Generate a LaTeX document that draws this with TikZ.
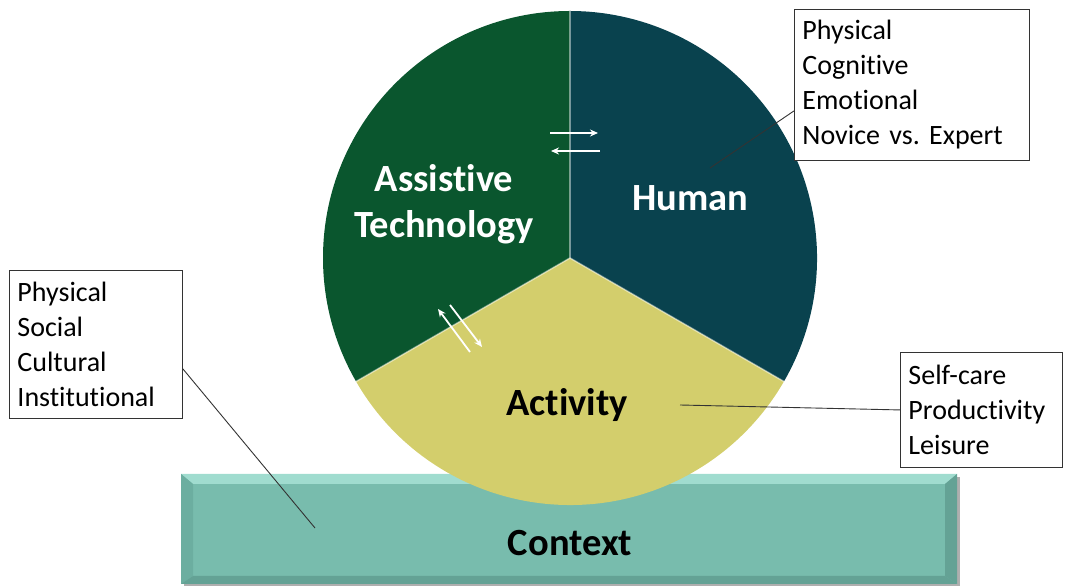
\documentclass[tikz,border=0pt]{standalone}
\usepackage{fontspec}
\setmainfont{Carlito}[Ligatures=NoCommon]
\usetikzlibrary{arrows.meta,calc}

\definecolor{atgreen}{RGB}{10,86,46}
\definecolor{humanteal}{RGB}{9,66,78}
\definecolor{actyellow}{RGB}{211,206,108}
\definecolor{ctxface}{RGB}{120,188,173}
\definecolor{ctxlight}{RGB}{160,220,207}
\definecolor{ctxside}{RGB}{108,174,160}
\definecolor{ctxdark}{RGB}{100,162,149}
\definecolor{ctxshadow}{RGB}{175,175,175}

\tikzset{
  bigbold/.style={font=\fontsize{38.5}{46}\selectfont\bfseries, align=center},
  infobox/.style={draw=black!80, line width=0.9pt, fill=white, align=left,
    inner xsep=8pt, inner ysep=0pt, font=\fontsize{28}{35}\selectfont},
  leader/.style={draw=black!80, line width=0.9pt},
  flow/.style={draw=white, line width=1.8pt, -{Stealth[length=8pt,width=7pt]}},
  divider/.style={draw=white, draw opacity=0.45, line width=1.6pt}
}

\begin{document}
\frenchspacing
\begin{tikzpicture}[x=1pt,y=1pt]
\useasboundingbox (0,0) rectangle (1065,586);

% bevelled context bar
\fill[ctxshadow] (184,-1) rectangle (960,109);
\fill[ctxface] (181,2) rectangle (957,112);
\fill[ctxlight] (181,112) -- (957,112) -- (945,102) -- (193,102) -- cycle;
\fill[ctxside] (181,2) -- (181,112) -- (193,102) -- (193,10) -- cycle;
\fill[ctxdark] (957,2) -- (957,112) -- (945,102) -- (945,10) -- cycle;
\fill[ctxdark] (181,2) -- (957,2) -- (945,10) -- (193,10) -- cycle;
\node[bigbold, text=black] (ctx) at (570,43) {Context};

% three sectors of the circle
\coordinate (c) at (570,328);
\fill[atgreen] (c) -- ++(90:247) arc[start angle=90, end angle=210, radius=247] -- cycle;
\fill[humanteal] (c) -- ++(-30:247) arc[start angle=-30, end angle=90, radius=247] -- cycle;
\fill[actyellow] (c) -- ++(210:247) arc[start angle=210, end angle=330, radius=247] -- cycle;
\draw[divider] (c) -- ++(90:247);
\draw[divider] (c) -- ++(210:247);
\draw[divider] (c) -- ++(330:247);

% sector labels
\node[bigbold, text=white] (at) at (444,382) {Assistive\\Technology};
\node[bigbold, text=white] (human) at (690,388) {Human};
\node[bigbold, text=black] (act) at (567,181) {Activity};

% interaction arrows
\coordinate (a1s) at (550,453);
\coordinate (a1e) at (598,453);
\coordinate (a2s) at (600,435);
\coordinate (a2e) at (551,435);
\draw[flow] (a1s) -- (a1e);
\draw[flow] (a2s) -- (a2e);
\coordinate (b1s) at (470,234);
\coordinate (b1e) at (438,277);
\coordinate (b2s) at (450,281);
\coordinate (b2e) at (482,239);
\draw[flow] (b1s) -- (b1e);
\draw[flow] (b2s) -- (b2e);

% detail boxes
\node[infobox, anchor=north west, minimum width=235pt, minimum height=151pt, text width=219pt]
  (hbox) at (794,577) {Physical\\Cognitive\\Emotional\\Novice vs. Expert};
\node[infobox, anchor=north west, minimum width=173pt, minimum height=148pt, text width=157pt]
  (lbox) at (9,316) {Physical\\Social\\Cultural\\Institutional};
\node[infobox, anchor=north west, minimum width=162pt, minimum height=115pt, text width=146pt]
  (rbox) at (900,234) {Self-care\\Productivity\\Leisure};

% leader lines
\coordinate (hpt) at (710,418);
\coordinate (apt) at (680,181);
\coordinate (cpt) at (315,58);
\draw[leader] (hpt) -- ($(hbox.south west)+(0,50)$);
\draw[leader] (apt) -- (rbox.west);
\draw[leader] (cpt) -- ($(lbox.south east)+(0,50)$);
\end{tikzpicture}
\end{document}
